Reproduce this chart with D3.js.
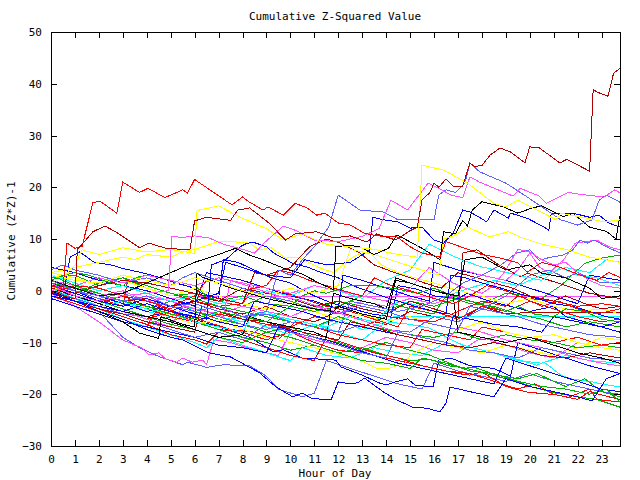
<!DOCTYPE html>
<html>
<head>
<meta charset="utf-8">
<script src="https://cdn.jsdelivr.net/npm/d3@7"></script>
<style>
  body { margin: 0; background: #fff; }
  svg text { font-family: "DejaVu Sans Mono", monospace; font-size: 11px; fill: #000; }
</style>
</head>
<body>
<div id="chart"></div>
<script>
// tick labels
const yTicks = [-30, -20, -10, 0, 10, 20, 30, 40, 50];
const xTicks = d3.range(0, 24);

// series: [hour, cumulative value]
const s01 = [[0,1],[0.5,0.3],[0.67,9.2],[1,8.2],[1.3,8.6],[1.75,17],[2.05,17.3],[2.75,15],[3,21],[3.7,19],[4.05,19.8],[4.76,18],[5.5,19.5],[5.7,18.9],[6,21.5],[7.56,16.6],[8,18.1],[8.3,17.1],[8.86,15.6],[9.07,16.2],[9.7,14.6],[10.2,16.9],[10.7,16],[11.1,14.6],[11.45,15],[12,13.1],[12.5,12.7],[13.1,11.1],[13.4,10.8],[14,10.4],[14.4,10.6],[15,8.5],[15.5,7.3],[16.25,6.5],[16.5,9.5],[17.3,8.2],[18,7],[18.8,6.3],[19.5,5.4],[19.9,3.6],[20.5,5.5],[21.3,4.5],[22,3.2],[22.8,2],[23.3,3.5],[23.77,2.6]];
const s02 = [[0,-0.3],[0.5,-1],[1,-1.6],[1.1,8],[1.4,9.5],[1.75,11.4],[2.25,12.5],[2.7,11.4],[3.7,8.3],[4.1,9.2],[4.8,8.2],[5.8,7.9],[6,13.5],[6.5,14.2],[7.5,13.6],[7.8,15.6],[8.3,16],[9.1,13.1],[9.8,9.8],[10.2,11],[11.1,11.4],[11.8,10.2],[12.5,10.6],[13.2,9.4],[13.6,11],[14.4,9.8],[15,11.6],[15.3,12.3],[15.5,17.5],[15.83,19],[16,20.8],[16.2,20],[16.5,21.6],[16.8,20.2],[17.2,20.2],[17.5,24.7],[17.7,24],[18,24.2],[18.34,26.2],[18.76,27.6],[19.2,26.8],[19.8,24.7],[20,27.8],[20.4,27.6],[21.26,24.7],[21.55,25.4],[22.5,23.1],[22.65,38.9],[22.8,38.4],[23.27,37.6],[23.5,42],[23.77,43]];
const s03 = [[0,3],[0.5,2.5],[1,5],[1.3,7.9],[2,7],[3,8.3],[4,7.5],[5,8],[6,7.2],[6.1,15.5],[7,16.4],[8,14],[9,12],[9.7,9.8],[10.5,11],[11.5,9],[12.5,8.5],[13.5,8],[14.5,7],[15.3,6.5],[15.5,24.3],[16.4,23.3],[17.4,20.8],[18.5,16.9],[19,16.2],[19.5,17.5],[20.3,15.6],[21.1,13.7],[21.3,15],[22.4,14],[23.1,13.3],[23.77,13.7]];
const s04 = [[0,1],[1,-1],[2,-2],[3,-1],[4,-0.5],[4.9,0],[5.05,10.5],[5.5,10.3],[6,10.6],[6.6,10.2],[7.2,9],[8,8],[8.5,7.3],[8.9,9.2],[9.7,12.5],[10.2,11.7],[11,9.8],[12,9.5],[13,10.5],[13.7,12],[14.2,17.5],[14.9,15.6],[15.75,20.8],[16.2,19.8],[16.7,18.5],[17.2,18],[17.5,22],[17.9,21],[19.3,18.3],[19.6,19.8],[20.4,18.3],[20.7,16.9],[21.6,19],[22,18.7],[23.1,18.1],[23.55,19.5],[23.77,18.9]];
const s05 = [[0,2],[1,0],[2,-1],[3,-2],[4,-1],[5,-3],[6,-4],[7,-3],[8,-5],[9,-4],[9.5,4],[10,3],[10.5,6],[11,8.5],[11.6,12.3],[12,18.5],[12.9,15.6],[13.9,15.2],[14.5,13.7],[15.8,13.7],[16,13.7],[16.2,18.5],[16.5,19.5],[16.9,19],[17.3,20.8],[17.5,24.7],[17.9,23],[19,20.8],[19.9,18.1],[21.3,13.7],[22,12.7],[22.6,13.7],[22.9,17.5],[23.2,18.5],[23.77,17.1]];
const s06 = [[0,2],[1,0.5],[2,-1],[3,-0.5],[4,1.5],[5,3.5],[6,5.5],[7,7],[7.7,8.2],[8.3,6.9],[8.9,5.9],[9.7,4.4],[10.5,3.2],[11.2,1.5],[11.8,0.2],[11.9,8.5],[12.4,8.8],[12.9,8.5],[13.5,7],[14.1,8.2],[14.45,10.8],[15.1,9.2],[15.5,8.2],[16.25,6],[16.4,11.4],[16.9,11],[17.2,13.6],[17.4,12.5],[17.6,15.6],[18,17.2],[18.9,16.2],[19.5,15],[20.1,16],[20.5,16.4],[21.4,14.3],[21.8,15],[22.5,12.3],[23.2,11.5],[23.6,10],[23.77,14.5]];
const s07 = [[0,0],[1,-2],[2,-4],[3,-6],[3.7,-8.2],[4.5,-9.2],[4.6,-5],[5.5,-6.5],[6,-7],[6.1,3.4],[6.3,2.7],[7.4,0.7],[8.2,-0.4],[9,-1.5],[10,-2.5],[11,-3.5],[11.8,-4],[12,-3],[13,-4.5],[14,-5.5],[14.4,2],[15,1.5],[16,0],[17,-1],[17.3,6],[18,6.5],[19,4],[20,5],[20.5,3.4],[21.5,2.5],[22.5,0.5],[23,-1.5],[23.77,-1]];
const s08 = [[0,-0.5],[1,-2],[2,-4],[3,-5.5],[4,-7.5],[5,-9],[5.5,-9.5],[6.6,-12],[7.5,-12.8],[8.3,-14.8],[8.7,-15.8],[9.4,-18.6],[10.1,-20.5],[10.5,-19.8],[10.9,-20.8],[11.7,-21.1],[12,-17.6],[12.5,-18],[12.8,-17.8],[13.1,-16.9],[13.9,-19.6],[14.45,-21.1],[15.1,-22.5],[15.7,-22.7],[16.25,-23.4],[16.5,-21.7],[16.67,-18.6],[17.5,-19.5],[18.5,-20.5],[19,-17],[20,-18.5],[21,-19.5],[22,-20.5],[22.6,-21.3],[23.2,-17],[23.77,-16]];
const s09 = [[0,0.5],[1,-1.5],[2,-4],[3,-9],[3.7,-11],[4.55,-12.8],[5.5,-14.3],[5.7,-13.8],[6.5,-14.8],[7.2,-14.3],[8.3,-14.5],[9,-16.5],[9.5,-19],[10.5,-20.5],[11,-19.8],[11.5,-13.5],[12.5,-15],[13.5,-16.5],[14.5,-18],[15.5,-19],[16,-14],[17,-15.5],[18,-16.5],[19,-17.5],[20,-16],[21,-17.5],[22,-18.5],[23,-19.5],[23.77,-20]];
const s10 = [[0,-0.5],[1,-3],[2,-6],[3,-9.5],[3.5,-10.5],[3.8,-11],[4.1,-12.4],[4.5,-12],[4.8,-13.2],[5.25,-13.8],[5.5,-13],[5.9,-13.8],[6.35,-13.4],[6.5,-14.3],[6.8,-9.5],[7.5,-10],[8.5,-11.5],[9.5,-12.5],[10,-8],[11,-9.5],[12,-10.5],[13,-11],[14,-9],[15,-10],[16,-11.5],[17,-12],[18,-9],[19,-10.5],[20,-12],[21,-13],[22,-10],[23,-11],[23.77,-11.5]];
const s11 = [[0,2],[1,1],[2,-1],[3,0],[4,-2],[5,-1.5],[5.9,-1.1],[23.77,-1.1]];
const s12 = [[0,1],[1,-1],[2,-3],[3,-2],[4,-4],[5,-5],[6,-3],[7,-5],[8,-6],[9,-4],[10,-6],[11,-7],[12,-5.5],[13,-7.5],[14,-6],[14.3,-5],[23.77,-5]];
const s13 = [[0,0],[1,-1],[2,-2.5],[3,-1],[4,-3],[5,-4],[6,-2],[7,-3.5],[8,-4.5],[9,-3],[10,-5],[11,-6],[12,-4],[13,-5.5],[14,-6.5],[15,-4],[16,-5],[17,-6],[18,-3],[19,-4.5],[19.9,-4.2],[23.77,-4.2]];
const s14 = [[0,1.5],[1,0],[2,-2],[3,-3.5],[4,-5],[5,-4],[6,-5.5],[7,-7],[8,-8.5],[8.3,-9],[9.3,-11.8],[9.7,-11.4],[10.5,-13],[11.9,-13.4],[12.1,-14.7],[13,-16.3],[13.7,-17.8],[14,-18.2],[14.4,-17.6],[14.9,-17],[15.2,-18.2],[15.96,-18.6],[16.2,-13.4],[16.7,-13],[17.5,-14.5],[18.5,-15],[19.2,-16.5],[19.5,-10],[20.5,-11.5],[21.5,-13],[22.5,-14.5],[23.77,-16]];
const s15 = [[0,0.5],[1,-1],[2,-2.5],[3,-4],[4,-5.5],[5,-4],[6,-6],[7,-7.5],[8,-8],[9,-9.5],[10,-8],[11,-10],[12,-11.5],[13,-12],[14,-13],[15,-14],[15.8,-14.8],[17,-16],[17.5,-16.3],[18,-15.7],[19,-18.5],[19.9,-19.6],[21.1,-20.1],[21.6,-20.6],[22.5,-19],[22.8,-21],[23.77,-21.5]];
const s16 = [[0,2],[1,0.5],[2,-1],[3,-2.5],[4,-4],[5,-3],[6,-4.5],[7,-6],[8,-5],[9,-7],[10,-8.5],[11,-6.5],[12,-8],[13,-9.5],[14,-6],[15,-6.5],[15.8,-7.2],[16.6,-9.2],[17.2,-10.5],[18.9,-12.5],[19.6,-13.4],[20.3,-14.4],[20.6,-13.8],[21.3,-16.3],[21.7,-17],[22.6,-17.6],[23,-18],[23.77,-18.6]];
const s17 = [[0,0],[1,-1.5],[2,-3.5],[3,-5],[4,-6.5],[5,-5],[6,-6],[7,-7.5],[8,-9],[9,-10],[10,-11.5],[11,-10.5],[12,-12],[13,-11],[14,-12.5],[15,-13.5],[15.8,-13.2],[16.6,-14.5],[17.2,-14.8],[18.6,-16.5],[19.5,-17.6],[20.1,-18.6],[21.1,-19.8],[22,-20.5],[22.8,-21],[23.77,-22.5]];
const s18 = [[0,3],[1,1],[2,-0.5],[3,-2],[4,-3.5],[5,-2],[6,-4],[7,-5.5],[8,-6.5],[9,-8],[10,-7],[11,-9],[12,-10],[13,-11.5],[14,-10],[15,-11.5],[15.8,-12.4],[16.6,-13.9],[17.2,-15],[17.7,-14.8],[18.6,-16.3],[19.5,-17],[20.3,-16],[21,-17.5],[21.5,-18.5],[22.3,-17],[23,-19.5],[23.77,-20.5]];
const s19 = [[0,2.5],[1,3],[2,1],[3,2.5],[4,0.5],[5,-1],[6,-0.5],[7,-2],[8,-3],[9,-1],[10,-2.5],[11,-3.5],[12,-2],[13,-3],[14,-4],[15,-2],[16,-3],[17,-1.5],[18,-2.5],[19,-0.5],[20,-1],[20.5,-1.5],[21.3,1],[22,4],[22.3,5.3],[22.7,5.9],[23,6.3],[23.77,6.9]];
const s20 = [[0,4.5],[0.5,4],[1,3.5],[2,2],[3,1],[4,0],[5,-1.5],[6,-3],[6.5,3.5],[7,3],[8,2],[9,0.5],[10,-1],[11,-2],[12,-3.5],[12.2,3],[13,2],[14,0.5],[15,-1],[15.8,-2],[16,5.5],[17,4],[18,3],[19,2],[20,0.5],[21,-1],[22,-2.5],[22.5,3],[23.77,2]];
const s21 = [[0,1],[1,-0.5],[2,-2],[3,-3],[4,-1.5],[5,-3],[6,-2],[7,-0.5],[7.3,5.5],[8,4.5],[9,3],[10,2.5],[10.6,6],[11.5,5],[12.5,5.5],[13.3,7.8],[13.45,14.2],[13.9,13.7],[14.5,13.3],[15,12.1],[15.5,12.3],[16,9.8],[16.4,9.2],[16.8,11.1],[17.2,15.6],[17.5,15.2],[17.9,14.2],[18.2,13.3],[18.5,15.6],[18.9,14.6],[19.1,14],[19.2,15],[19.9,14],[20.6,12.3],[20.8,11.7],[20.9,15],[21.8,15],[22.5,14.2],[22.9,14.6],[23.3,13.1],[23.77,12.3]];
const s22 = [[0,-0.5],[0.5,-1],[0.8,6.5],[1.2,7.5],[1.8,5.5],[2.5,5],[3,4.3],[3.8,3.5],[4.6,2.5],[5.2,1.5],[5.8,0.8],[6.3,-0.5],[7,-1.5],[7.2,6],[7.8,5.5],[8.5,4],[9.2,2.5],[10,1.5],[10.5,0.2],[11,-1],[11.8,-2.5],[12.6,-3.5],[13.4,-4.5],[14.2,-5],[14.5,1],[15.3,0.3],[16,-1],[17,-1.5],[17.4,-0.5],[18.3,-2],[19.2,-3],[20,-4],[21,-3],[21.5,-5],[22.3,-6],[23,-7],[23.77,-8]];
const s23 = [[0,2],[1,0],[2,-1.5],[3,-3],[3.2,2],[4,1],[5,-0.5],[6,-2],[7,-3],[8,-2.5],[8.5,1],[9.5,0],[10.5,-1.5],[11.5,-3],[12.5,-4],[13.5,-5.5],[14.5,-7],[15,-3],[16,-4],[17,-5.5],[18,-3],[19,-4],[20,-2],[21,-3.5],[22,-5],[23,-6],[23.77,-5.5]];
const s24 = [[0,-1],[1,-2.5],[2,-4],[3,-5.5],[4,-7],[4.5,-3],[5.5,-4.5],[6.5,-6],[7.5,-7.5],[8.5,-8],[9.5,-9.5],[10.2,-6],[11,-7],[12,-8.5],[13,-9.5],[14,-10.5],[15,-11],[15.5,-7.5],[16.5,-8.5],[17.5,-9.5],[18,-7],[19,-8],[20,-9],[21,-10],[22,-9],[23,-10.5],[23.77,-10]];
const s25 = [[0,0.5],[1,-1.5],[2,-3.5],[3,-5.5],[4,-7],[5,-8.5],[6,-10],[6.5,-11],[7,-9],[8,-10.5],[9,-12],[10,-13.5],[10.5,-11],[11.5,-12.5],[12.5,-13],[13.5,-11],[14.5,-12],[15.5,-12.5],[16.5,-10],[17.5,-11.5],[18.5,-12],[19.5,-13.5],[20.5,-14],[21.5,-12.5],[22.5,-13.5],[23.77,-14]];
const s26 = [[0,1],[1,-1],[2,-2.5],[3,-4],[4,-3],[5,-5],[6,-6.5],[7,-5.5],[8,-7.5],[9,-9],[10,-10],[11,-11],[11.8,-12],[12.9,-13.4],[13.6,-15],[14.1,-15],[14.8,-14],[15,-12.4],[16,-10],[17,-11],[18,-12],[19,-10.5],[20,-11.5],[21,-12.5],[22,-11],[23,-9],[23.77,-9.5]];
const s27 = [[0,3.5],[1,2.5],[2,1],[3,2],[4,0.5],[5,-1],[6,0.5],[7,-1],[8,-2.5],[9,-3.5],[10,-2],[11,-4],[12,-5.5],[13,-4.5],[14,-6],[15,-5],[16,-6.5],[17,-7.5],[18,-6],[19,-8],[20,-9],[21,-8.5],[22,-10],[23,-11],[23.77,-11.5]];
const s28 = [[0,3],[1,2],[2,1.5],[3,3],[4,2],[5,1],[6,2.5],[7,1.5],[8,0],[9,-1],[10,0.5],[11,-0.5],[12,1],[12.5,8],[13.5,7],[14.5,5.5],[15.5,4],[16.2,3],[16.4,10],[16.7,10.4],[17,11.1],[17.4,12.3],[17.7,11.7],[18.3,10.4],[19.1,11.4],[19.6,10.4],[20.5,9],[21.5,8],[22.5,6.5],[23.77,5.5]];
const s29 = [[0,1],[1,0.5],[2,-1],[3,-2.5],[4,-1],[5,-2],[6,-3.5],[7,-4.5],[8,-3],[9,-4],[10,-5],[11,-3],[12,-4.5],[13,-2],[14,-3],[15,-1.5],[16,-2.5],[17,-1],[17.2,4],[18,3],[19,2],[19.5,4],[20,7.3],[20.4,4.6],[20.8,3.4],[21.4,5.9],[21.9,9.2],[22.8,9.8],[23.3,8.5],[23.77,7.9]];
const s30 = [[0,-1],[1,-2],[2,-3],[3,-4.5],[4,-5],[5,-6],[6,-4],[7,-5],[8,-6.5],[9,-7.5],[10,-6],[11,-7],[12,-8],[13,-6.5],[14,-7.5],[15,-8],[16,-5],[17,-6],[18,-3.5],[19,-1],[19.5,1],[20,3],[20.8,4],[21.5,2.5],[22,3.5],[23,1.5],[23.77,1.5]];
const s31 = [[0,1],[1,-0.5],[2,1.5],[3,2.5],[4,1],[5,-0.5],[6,-1.5],[7,-3],[8,-4],[9,-5],[10,-6],[11,-7],[12,-5],[13,-6.5],[14,-7.5],[15,-8.5],[16,-9],[17,-8],[18,-9.5],[19,-8.5],[20,-9.5],[21,-10],[22,-11],[23,-10.5],[23.77,-11]];
const s32 = [[0,2],[0.5,3],[1,3.5],[1.6,3],[2.3,1.8],[3,1],[3.5,2.5],[4,3],[5,2],[6,1],[6.5,-1],[7,-2],[8,-1],[9,-2.5],[10,-3],[11,-4],[12,-3],[13,-1],[14,-2],[15,-3.5],[16,-4.5],[16.5,-1],[17.5,-2.5],[18.5,-3],[19.5,-4.5],[20.5,-5.5],[21.5,-7],[22.5,-6],[23.77,-7]];
const s33 = [[0,0],[1,-2],[2,-3.5],[3,-5],[4,-6.5],[5,-8.5],[6,-9.5],[6.5,-10.3],[7,-8],[8,-9.5],[9,-11],[10,-12.5],[11,-13.5],[11.5,-9],[12.5,-10.5],[13.5,-12],[14.5,-13],[15.5,-14.5],[16.5,-15.5],[17.5,-16],[18.5,-17.5],[19.5,-19],[20.2,-18],[21,-20],[22,-21],[22.5,-19.5],[23.3,-20.5],[23.77,-21]];
const s34 = [[0,-1.5],[1,-3],[2,-4.5],[3,-6],[4,-7],[5,-8],[6,-9],[7,-10.5],[8,-11],[9,-12],[9.5,-7],[10.5,-8.5],[11.5,-9.5],[12.5,-11],[13.5,-12.5],[14.5,-14],[15.5,-15],[16.5,-16],[17.5,-17],[18.5,-18],[19,-13],[20,-14.5],[21,-16],[22,-17.5],[23,-19],[23.77,-19.5]];
const s35 = [[0,1],[1,0.5],[2,-1],[3,-2],[4,-1.5],[5,-3],[6,-1],[7,-2],[8,0.5],[9,-0.5],[10,-1.5],[11,-3],[12,-2],[13,-3.5],[14,-4.5],[15,-2],[16,-3.5],[17,-5],[17.2,7.3],[17.8,7.9],[18.6,5.3],[19.6,2.7],[19.9,3.4],[20.5,2.5],[21.5,1],[22.5,-0.5],[23.77,-1.5]];
const s36 = [[0,3],[1,1.5],[2,0],[3,1],[4,-0.5],[5,-2],[6,-1],[7,-2.5],[8,-1.5],[9,0],[10,-1],[11,1],[12,0],[13,-1.5],[14,2],[15,4],[15.8,9],[16.3,7.9],[16.7,6.9],[17.2,5.9],[18,4.6],[18.6,4],[19.5,3],[20.5,2],[21.3,4.5],[22,3],[22.8,2.5],[23.77,1]];
const s37 = [[0,1.5],[1,-1],[2,-2.5],[3,-4],[4,-5.5],[5,-7],[5.5,-3],[6.5,-4],[7.2,-5],[7.5,2],[8.5,0.5],[9.5,-1],[10.5,-2],[11.5,-3.5],[12.5,-5],[13.5,-6.5],[14.5,-8],[15.5,-9],[16.5,-10],[17,-7],[18,-8],[19,-9.5],[20,-10.5],[21,-11.5],[22,-13],[23,-14],[23.77,-14.5]];
const s38 = [[0,0],[1,-1.5],[2,-3],[3,-4.5],[4,-6],[5,-7.5],[6,-9],[7,-8],[8,-9.5],[9,-6.5],[10,-8],[11,-9],[12,-10.5],[13,-12],[14,-13],[14.5,-8],[15.5,-9],[16.5,-10],[17.5,-11.5],[18.5,-12],[19.5,-13],[20.5,-11],[21.5,-12],[22.5,-13],[23.77,-13.5]];
const s39 = [[0,-1],[1,-2],[2,-3],[3,-2],[4,-3.5],[5,-5],[6,-6],[7,-4.5],[8,-5.5],[9,-6.5],[10,-7],[11,-5],[12,-6],[13,-7],[14,-5],[15,-5.5],[16,-6],[17,-4],[18,-2],[19,-3],[19.5,-1],[20,-1.5],[21,-2],[22,-3],[23,-2.5],[23.77,-3]];
const s40 = [[0,0.5],[1,-1],[2,-2],[3,-3.5],[4,-5],[5,-6.5],[6,-7.5],[7,-9],[8,-10],[9,-8],[10,-9],[11,-10.5],[12,-12],[13,-13.5],[14,-14],[15,-15],[15.5,-13],[16.5,-14],[17.5,-15.5],[18.5,-16],[19.5,-17.5],[20.5,-18.5],[21.5,-19],[22.5,-20],[23.2,-19],[23.77,-21.5]];
const s41 = [[0,2],[1,0.5],[2,-1],[3,-2.5],[4,-4],[5,-3],[6,-4.5],[7,-6],[8,-7],[8.5,-2],[9.5,-3],[10.5,-4],[11.5,-5.5],[12.5,-6.5],[13.5,-7.5],[14.5,-8.5],[15.5,-9.5],[16.5,-10.5],[16.8,-5],[17.5,-5.5],[18.5,-6.5],[19.5,-7],[20.5,-8],[21,-5],[22,-6],[23,-7],[23.77,-6]];
const s42 = [[0,-0.5],[1,-2],[2,-3.5],[3,-4.5],[4,-6],[5,-7],[6,-8],[6.3,-3],[7,-4],[8,-5.5],[9,-6],[10,-7.5],[11,-8.5],[12,-9.5],[12.5,-6],[13.5,-7],[14.5,-8.5],[15.5,-9.5],[16.5,-10.5],[17.5,-11],[18.5,-10],[19.5,-11],[20.5,-12.5],[21.5,-13],[22.5,-12],[23.77,-13]];
const s43 = [[0,0.5],[1,-1],[2,-2.5],[3,-4],[4,-5],[5,-6],[6,-7.5],[7,-9],[8,-8.5],[8.3,-5],[9,-6],[10,-7],[11,-8],[11.5,-9],[11.8,-0.5],[12.5,-1.5],[13.5,-2.5],[14,-3.5],[14.4,2.5],[15,1.5],[16,0],[16.8,-1],[17,-8],[18,-9],[19,-10],[20,-9],[21,-10.5],[22,-12],[23,-13],[23.77,-14]];
const s44 = [[0,4],[0.5,5],[1,4],[2,3],[3,1.5],[4,2.5],[5,1],[5.5,2.5],[6,3.5],[7,2],[8,0.5],[9,-1],[10,-2],[11,-3.5],[12,-4.5],[13,-3],[14,-4],[15,-5.5],[16,-6.5],[17,-7.5],[17.5,-3],[18.5,-4],[19.5,-5],[20.5,-6.5],[21.5,-7.5],[22.5,-8.5],[23.77,-9]];
const s45 = [[0,-0.5],[1,-2],[2,-3],[3,-2],[4,-3.5],[5,-4.5],[6,-6],[7,-7],[8,-8],[8.5,-4],[9.5,-5],[10.5,-6],[11.5,-7],[12.5,-5],[13.5,-6],[14.5,-2],[15.5,-3],[16.5,-1],[17.5,0.5],[18.5,2],[19.5,1],[20.5,3],[21.5,4.5],[22.5,3.5],[23.2,6],[23.77,5.5]];
const s46 = [[0,3.5],[1,4.5],[2,5.5],[3,6.5],[3.5,6],[4,7],[5,6.5],[5.5,7.5],[6,8],[7,9.5],[7.9,9.4],[8.3,9.2],[8.7,7.9],[9.2,8.3],[9.8,6.3],[10.3,6.5],[10.6,5.9],[11.2,4.5],[11.8,3.5],[12.3,5.5],[12.8,7],[13.3,7.5],[13.8,5],[14.5,3.5],[15.2,2.5],[16,1.5],[17,0],[18,-1],[19,-2.5],[20,-1.5],[21,-3],[22,-4],[23,-3.5],[23.77,-4.5]];
const s47 = [[0,-1],[1,-2],[2,-3],[3,-4],[4,-2.5],[5,-4],[6,-5],[6.5,-5.5],[6.7,5],[7.3,6],[7.9,8.5],[8.2,9.2],[8.5,9.3],[9,8.5],[9.3,7.3],[9.7,6.3],[10.1,5.3],[10.7,4.6],[11.3,3.5],[12,2.5],[12.6,1],[13.2,0],[13.8,-1],[14.5,-2],[15.2,-3],[16,-4],[16.5,-4.5],[16.7,3],[17.3,2.5],[18,1.5],[18.8,0.5],[19.5,-0.5],[20.3,-1.5],[21,-2.5],[21.8,-3],[22.5,-4],[23.2,-5],[23.77,-5.5]];
const s48 = [[0,0.5],[1,-0.5],[2,1],[3,2],[4,1.5],[5,0.5],[6,-0.5],[7,-1.5],[8,-2.5],[8.5,3.5],[9,3],[10,4.5],[10.8,8.5],[11.5,10],[12.1,9.2],[12.9,7.3],[13.5,5],[14.3,3.6],[14.9,2.7],[15.6,1.5],[16.3,0.5],[17,3.5],[17.8,2.5],[18.5,1.5],[19.3,0.5],[20,-1],[21,-2],[21.5,-1],[22.3,-2.5],[23,-3.5],[23.77,-3]];
const s49 = [[0,1],[1,0],[2,-1.5],[3,-0.5],[4,-2],[5,-3],[6,-2.5],[7,-4],[8,-5],[9,-4.5],[10,-6],[11,-7],[12,-8],[12.5,-2],[13.5,-3],[14.5,-4],[15.5,-3],[16.5,-1],[17.2,1.5],[18,3],[18.8,5],[19.45,7.3],[20,7.9],[20.4,5.9],[20.8,6.4],[21.4,6.9],[21.8,7.9],[22.1,9.8],[22.4,9.2],[22.7,9.8],[23.2,8.5],[23.77,7.3]];
const s50 = [[0,0],[1,1],[2,2.5],[3,1.5],[4,3],[5,2],[6,1],[7,2.5],[8,1.5],[9,0.5],[10,-0.5],[11,1],[12,0],[13,-1],[14,-2],[15,0.5],[15.8,4.5],[16.3,3],[16.8,1.5],[17.3,0.5],[18,-0.5],[18.5,1],[19,4],[19.5,8],[20,7.5],[20.5,6],[21,5],[21.5,5.5],[22,3.5],[22.5,2],[23,1],[23.77,0.5]];
const s51 = [[0,1.5],[1,0.5],[2,-0.5],[3,-2],[4,-3],[5,-4.5],[6,-5.5],[7,-4],[8,-5],[9,-6],[10,-3],[10.5,-1],[11,0],[11.5,-0.5],[12.5,1],[13.5,1],[14.5,0.3],[15.3,-0.5],[16,0.5],[16.8,-1],[17.5,-2],[18.3,-3],[19,-4],[19.5,-3],[20.2,-4.5],[21,-5],[21.5,-3.5],[22.3,-4],[23,-5.5],[23.77,-6]];
const s52 = [[0,-0.5],[1,1],[2,0.5],[3,-1],[4,-2],[5,-3.5],[5.5,-2],[6,-1],[6.5,2],[7,1.5],[8,0],[9,1],[9.5,4],[10,3.5],[10.8,2],[11.5,1],[12.2,0],[13,-1],[13.5,2.5],[14.2,1],[15,0],[16,-1.5],[16.8,-2.5],[17.5,-1],[18.2,1],[19,0],[19.8,-1.5],[20.5,-3],[21.2,-2],[22,-3.5],[22.8,-4.5],[23.77,-3.5]];

const series = [s13, s11, s12, s09, s10, s14, s15, s16, s17, s18, s19, s20, s22, s23, s24, s25, s26, s27, s29, s30, s31, s32, s33, s34, s35, s36, s37, s38, s39, s40, s41, s42, s43, s44, s45, s46, s47, s48, s49, s50, s51, s52, s07, s08, s21, s28, s06, s05, s04, s03, s01, s02];

const RED = "#ff0000", DRED = "#b00000", GRN = "#00b000", BLU = "#0000ff", LBL = "#6060ff",
      MAG = "#ff50ff", CYN = "#00ffff", YEL = "#ffff00", BLK = "#000000";
const seriesColors = [DRED, MAG, CYN, LBL, MAG, BLU, RED, CYN, GRN, GRN, GRN, BLU, BLU, RED, RED, CYN, YEL, YEL, MAG, LBL, GRN, GRN, RED, BLU, DRED, CYN, MAG, LBL, RED, GRN, BLU, DRED, BLK, LBL, CYN,
  YEL, BLU, DRED, LBL, MAG, GRN, RED,
  BLK, BLU, BLU, YEL, BLK, LBL, MAG, YEL, RED, DRED];

const W = 640, H = 480;
const plotL = 51, plotR = 620, plotT = 32, plotB = 446;

const svg = d3.select("#chart").append("svg")
  .attr("width", W).attr("height", H);

const x = d3.scaleLinear().domain([0, 23.77]).range([plotL, plotR]);
const y = d3.scaleLinear().domain([-30, 50]).range([plotB, plotT]);

// data lines
const line = d3.line().x(d => x(d[0])).y(d => y(d[1]));
svg.append("g").selectAll("path")
  .data(series)
  .join("path")
    .attr("d", line)
    .attr("fill", "none")
    .attr("stroke", (d, i) => seriesColors[i])
    .attr("stroke-width", 1)
    .attr("shape-rendering", "crispEdges");

// axes with inward ticks on all four sides
function styleAxis(g) {
  g.select(".domain").remove();
  g.selectAll(".tick line").attr("stroke", "#000").attr("shape-rendering", "crispEdges");
  g.selectAll("text").attr("font-family", null).attr("font-size", null);
}
svg.append("g").attr("transform", `translate(0,${plotB})`)
  .call(d3.axisBottom(x).tickValues(xTicks).tickSize(-6).tickPadding(9).tickFormat(d3.format("d")))
  .call(styleAxis);
svg.append("g").attr("transform", `translate(0,${plotT})`)
  .call(d3.axisTop(x).tickValues(xTicks).tickSize(-6).tickFormat(""))
  .call(styleAxis);
svg.append("g").attr("transform", `translate(${plotL},0)`)
  .call(d3.axisLeft(y).tickValues(yTicks).tickSize(-6).tickPadding(9))
  .call(styleAxis);
svg.append("g").attr("transform", `translate(${plotR},0)`)
  .call(d3.axisRight(y).tickValues(yTicks).tickSize(-6).tickFormat(""))
  .call(styleAxis);

// border
svg.append("rect")
  .attr("x", plotL + 0.5).attr("y", plotT + 0.5)
  .attr("width", plotR - plotL).attr("height", plotB - plotT)
  .attr("fill", "none").attr("stroke", "#000")
  .attr("shape-rendering", "crispEdges");

// titles
svg.append("text").attr("x", 335).attr("y", 20).attr("text-anchor", "middle")
  .text("Cumulative Z-Squared Value");
svg.append("text").attr("x", 335).attr("y", 477).attr("text-anchor", "middle")
  .text("Hour of Day");
svg.append("text").attr("transform", "translate(15,241) rotate(-90)")
  .attr("text-anchor", "middle").text("Cumulative (Z*Z)-1");
</script>
</body>
</html>
